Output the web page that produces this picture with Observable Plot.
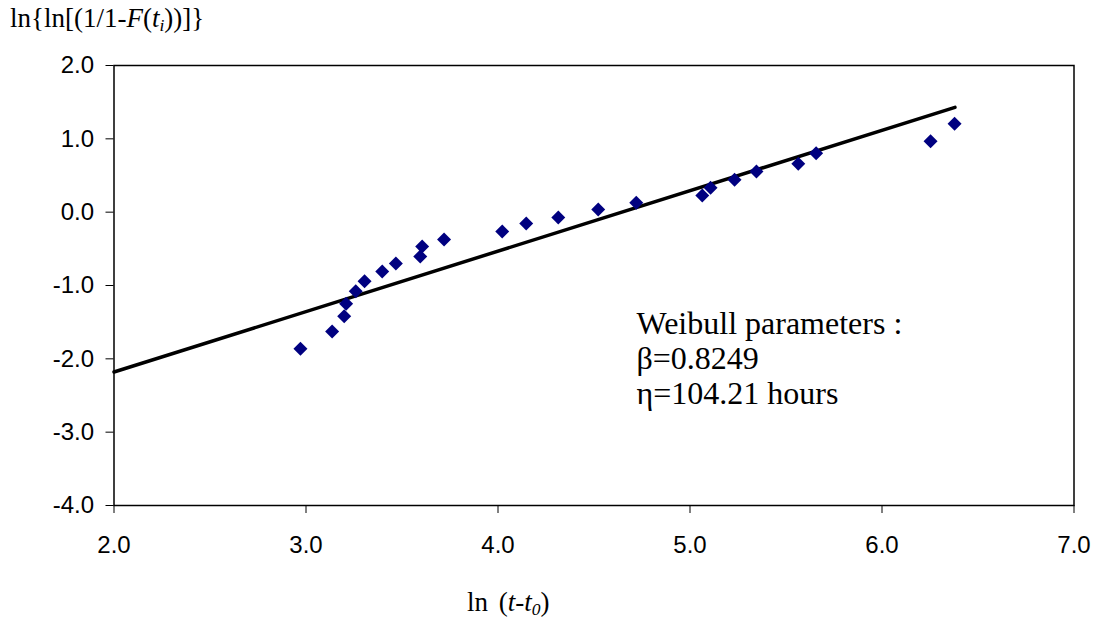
<!DOCTYPE html>
<html>
<head>
<meta charset="utf-8">
<script src="https://cdn.jsdelivr.net/npm/d3@7"></script>
<script src="https://cdn.jsdelivr.net/npm/@observablehq/plot@0.6"></script>
<style>
  html, body { margin: 0; padding: 0; background: white; }
  #wrap { position: relative; width: 1096px; height: 624px; }
  #wrap svg { position: absolute; left: 0; top: 0; }
  .lbl { position: absolute; font-family: "Liberation Serif", "Times New Roman", serif; font-size: 27px; line-height: 1; color: black; white-space: nowrap; }
  .lbl sub { font-size: 0.65em; vertical-align: -0.25em; line-height: 0; }
</style>
</head>
<body>
<div id="wrap">
  <div class="lbl" id="ylab" style="left:10px; top:5px;">ln{ln[(1/1-<i>F</i>(<i>t<sub>i</sub></i>))]}</div>
  <div class="lbl" id="xlab" style="left:467px; top:589px; word-spacing:4px;">ln (<i>t</i>-<i>t<sub>0</sub></i>)</div>
</div>
<script>
// Data
const lnT   = [2.971, 3.136, 3.199, 3.209, 3.259, 3.305, 3.397, 3.468, 3.595, 3.605, 3.719, 4.022,
               4.147, 4.314, 4.522, 4.720, 5.064, 5.107, 5.232, 5.346, 5.564, 5.657, 6.253, 6.378];
const lnLnF = [-1.863, -1.627, -1.419, -1.250, -1.078, -0.941, -0.809, -0.700, -0.605, -0.468, -0.373, -0.264,
               -0.155, -0.073, 0.036, 0.128, 0.227, 0.332, 0.441, 0.554, 0.659, 0.804, 0.968, 1.205];
const fitX  = [2.0, 6.38];
const fitY  = [-2.18, 1.43];
const xTicks = [2, 3, 4, 5, 6, 7];
const yTicks = [-4, -3, -2, -1, 0, 1, 2];
const annotation = ["Weibull parameters :", "β=0.8249", "η=104.21 hours"];

const points = lnT.map((x, i) => ({x, y: lnLnF[i]}));
const fit = fitX.map((x, i) => ({x, y: fitY[i]}));
const fmt = d => d.toFixed(1);

const chart = Plot.plot({
  width: 1096,
  height: 624,
  marginLeft: 113.5,
  marginRight: 22.5,
  marginTop: 65,
  marginBottom: 119,
  x: {domain: [2, 7]},
  y: {domain: [-4, 2]},
  style: {fontFamily: "'Liberation Sans', Arial, sans-serif", fontSize: "24px", color: "black", background: "white", overflow: "visible"},
  marks: [
    Plot.axisX({ticks: xTicks, tickFormat: fmt, tickSize: 8, tickPadding: 22, label: null, stroke: "black", strokeWidth: 1, fill: "black", fontSize: 24}),
    Plot.axisY({ticks: yTicks, tickFormat: fmt, tickSize: 8, tickPadding: 12, label: null, stroke: "black", strokeWidth: 1, fill: "black", fontSize: 24}),
    Plot.frame({stroke: "black", strokeWidth: 1.5}),
    Plot.line(fit, {x: "x", y: "y", stroke: "black", strokeWidth: 3.5}),
    Plot.dot(points, {x: "x", y: "y", symbol: "diamond2", r: 6.3, fill: "#000080", stroke: "none"}),
    Plot.text([annotation.join("\n")], {
      frameAnchor: "top-left", dx: 522.5, dy: 244, lineAnchor: "top", textAnchor: "start",
      fontFamily: "'Liberation Serif', 'Times New Roman', serif", fontSize: 32, lineHeight: 1.09, fill: "black"
    })
  ]
});
document.getElementById("wrap").prepend(chart);
</script>
</body>
</html>
